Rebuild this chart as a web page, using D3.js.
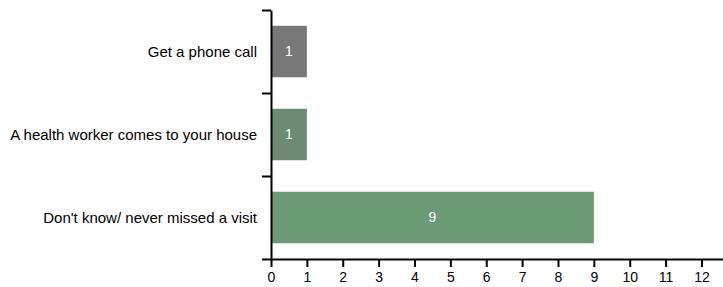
<!DOCTYPE html>
<html>
<head>
<meta charset="utf-8">
<script src="https://cdn.jsdelivr.net/npm/d3@7"></script>
<style>
  body { margin: 0; background: #fff; }
  svg text { font-family: "Liberation Sans", Arial, sans-serif; }
</style>
</head>
<body>
<svg id="chart" width="723" height="287"></svg>
<script>
const categories = ["Get a phone call", "A health worker comes to your house", "Don't know/ never missed a visit"];
const counts = [1, 1, 9];
const barColors = ["#787878", "#6b8b73", "#6a9b75"];
const xTicks = [0, 1, 2, 3, 4, 5, 6, 7, 8, 9, 10, 11, 12];

const width = 723;
const height = 287;
const margin = { top: 10, right: 0, bottom: 28, left: 271 };
const svg = d3.select("#chart");

const x = d3.scaleLinear()
  .domain([0, d3.max(counts) * 1.4])
  .range([margin.left, width - margin.right]);

const y = d3.scaleBand()
  .domain(categories)
  .range([margin.top, height - margin.bottom])
  .paddingInner(0.38)
  .paddingOuter(0.19);

// boundaries between bands for the y-axis ticks
const yEdge = d3.scaleLinear()
  .domain([0, categories.length])
  .range([margin.top, height - margin.bottom]);

svg.append("g")
  .selectAll("rect")
  .data(categories)
  .enter().append("rect")
  .attr("x", x(0))
  .attr("y", (d) => y(d))
  .attr("width", (d, i) => x(counts[i]) - x(0))
  .attr("height", y.bandwidth())
  .attr("fill", (d, i) => barColors[i]);

svg.append("g")
  .selectAll("text")
  .data(categories)
  .enter().append("text")
  .attr("x", (d, i) => (x(0) + x(counts[i])) / 2)
  .attr("y", (d) => y(d) + y.bandwidth() / 2)
  .attr("dy", "0.35em")
  .attr("text-anchor", "middle")
  .attr("font-size", 14)
  .attr("fill", "#fff")
  .text((d, i) => counts[i]);

const yAxis = svg.append("g")
  .attr("transform", `translate(${margin.left},0)`)
  .call(d3.axisLeft(yEdge).tickValues(d3.range(categories.length + 1)).tickFormat("").tickSize(9).tickSizeOuter(0));
yAxis.select(".domain").attr("stroke", "#000").attr("stroke-width", 2);
yAxis.selectAll(".tick line").attr("stroke", "#000").attr("stroke-width", 2);

svg.append("g")
  .selectAll("text")
  .data(categories)
  .enter().append("text")
  .attr("x", margin.left - 14)
  .attr("y", (d) => yEdge(categories.indexOf(d) + 0.5))
  .attr("dy", "0.35em")
  .attr("text-anchor", "end")
  .attr("font-size", 15)
  .attr("fill", "#000")
  .text((d) => d);

const xAxis = svg.append("g")
  .attr("transform", `translate(0,${height - margin.bottom})`)
  .call(d3.axisBottom(x).tickValues(xTicks).tickSize(8).tickSizeOuter(0));
xAxis.select(".domain").attr("stroke", "#000").attr("stroke-width", 2);
xAxis.selectAll(".tick line").attr("stroke", "#000").attr("stroke-width", 2);
xAxis.selectAll(".tick text").attr("font-size", 14).attr("fill", "#000").attr("dy", "0.85em");
</script>
</body>
</html>
